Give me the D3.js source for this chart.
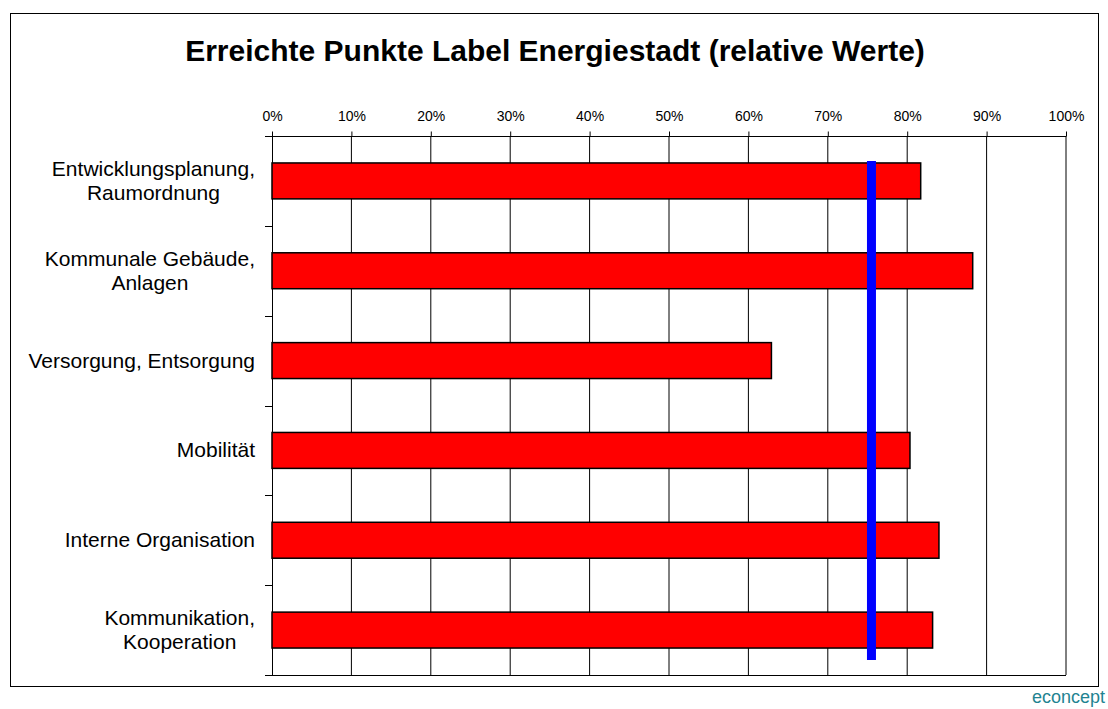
<!DOCTYPE html>
<html>
<head>
<meta charset="utf-8">
<script src="https://cdn.jsdelivr.net/npm/d3@7/dist/d3.min.js"></script>
<style>
  html, body { margin: 0; padding: 0; background: #fff; }
  svg { display: block; font-family: "Liberation Sans", Arial, sans-serif; }
</style>
</head>
<body>
<svg id="chart" width="1108" height="709"></svg>
<script>
// Achieved points per label category (share of possible points)
const categories = [
  ["Entwicklungsplanung,", "Raumordnung"],
  ["Kommunale Gebäude,", "Anlagen"],
  ["Versorgung, Entsorgung"],
  ["Mobilität"],
  ["Interne Organisation"],
  ["Kommunikation,", "Kooperation"]
];
const values = [0.817, 0.8825, 0.629, 0.8035, 0.840, 0.832];
const threshold = 0.755;   // overall level shown as vertical bar
const tickValues = [0, 0.1, 0.2, 0.3, 0.4, 0.5, 0.6, 0.7, 0.8, 0.9, 1.0];
const title = "Erreichte Punkte Label Energiestadt (relative Werte)";
const credit = "econcept";

const svg = d3.select("#chart");
const plot = { left: 272, right: 1066, top: 136, bottom: 675 };

// outer frame
svg.append("rect")
  .attr("x", 10.5).attr("y", 13.5)
  .attr("width", 1088).attr("height", 673)
  .attr("fill", "#fff").attr("stroke", "#000").attr("stroke-width", 1);

// title
svg.append("text")
  .attr("x", 555).attr("y", 61)
  .attr("text-anchor", "middle")
  .attr("font-size", 30).attr("font-weight", "bold")
  .text(title);

const x = d3.scaleLinear().domain([0, 1]).range([plot.left, plot.right]);
const y = d3.scaleBand().domain(d3.range(categories.length))
  .range([plot.top, plot.bottom]).paddingInner(0.6).paddingOuter(0.3);
const yBand = d3.scaleBand().domain(d3.range(categories.length))
  .range([plot.top, plot.bottom]);

// vertical gridlines
svg.append("g").selectAll("line").data(tickValues.slice(1)).join("line")
  .attr("x1", d => x(d)).attr("x2", d => x(d))
  .attr("y1", plot.top).attr("y2", plot.bottom)
  .attr("stroke", "#000").attr("stroke-width", 1);

// plot bottom edge
svg.append("line")
  .attr("x1", plot.left - 7).attr("x2", plot.right)
  .attr("y1", plot.bottom + 0.5).attr("y2", plot.bottom + 0.5)
  .attr("stroke", "#000");

// top axis
const xAxis = d3.axisTop(x).tickValues(tickValues)
  .tickFormat(d3.format(".0%")).tickSize(5).tickPadding(11);
const gx = svg.append("g").attr("transform", `translate(0,${plot.top + 0.5})`).call(xAxis);
gx.select(".domain").attr("d", `M${plot.left - 7},0H${plot.right}`).attr("stroke", "#000");
gx.selectAll(".tick line").attr("stroke", "#000");
gx.selectAll("text").attr("font-size", 14).attr("fill", "#000")
  .attr("font-family", "'Liberation Sans', Arial, sans-serif");

// left axis line and category boundary ticks
svg.append("line")
  .attr("x1", plot.left + 0.5).attr("x2", plot.left + 0.5)
  .attr("y1", plot.top).attr("y2", plot.bottom)
  .attr("stroke", "#000");
svg.append("g").selectAll("line").data(d3.range(categories.length + 1)).join("line")
  .attr("x1", plot.left - 7).attr("x2", plot.left)
  .attr("y1", i => Math.round(plot.top + i * yBand.step()) + 0.5)
  .attr("y2", i => Math.round(plot.top + i * yBand.step()) + 0.5)
  .attr("stroke", "#000");

// bars
svg.append("g").selectAll("rect").data(values).join("rect")
  .attr("x", x(0)).attr("y", (d, i) => y(i))
  .attr("width", d => x(d) - x(0)).attr("height", y.bandwidth())
  .attr("fill", "#ff0000").attr("stroke", "#000").attr("stroke-width", 1.5);

// threshold bar
svg.append("line")
  .attr("x1", x(threshold)).attr("x2", x(threshold))
  .attr("y1", y(0) - 2)
  .attr("y2", y(categories.length - 1) + y.bandwidth() + 12)
  .attr("stroke", "#0000ff").attr("stroke-width", 9);

// category labels: lines centered, widest line right-aligned
const labelRight = 255;
categories.forEach((lines, i) => {
  const cy = yBand(i) + yBand.bandwidth() / 2;
  const lh = 24;
  const g = svg.append("g");
  const texts = lines.map((t, k) => g.append("text")
    .attr("font-size", 21)
    .attr("text-anchor", "middle")
    .attr("y", cy + (k - (lines.length - 1) / 2) * lh + 7)
    .text(t));
  const maxW = d3.max(texts, t => t.node().getComputedTextLength());
  texts.forEach(t => t.attr("x", labelRight - maxW / 2));
});

// credit
svg.append("text")
  .attr("x", 1105).attr("y", 703)
  .attr("text-anchor", "end")
  .attr("font-size", 18).attr("fill", "#1f8391")
  .text(credit);
</script>
</body>
</html>
